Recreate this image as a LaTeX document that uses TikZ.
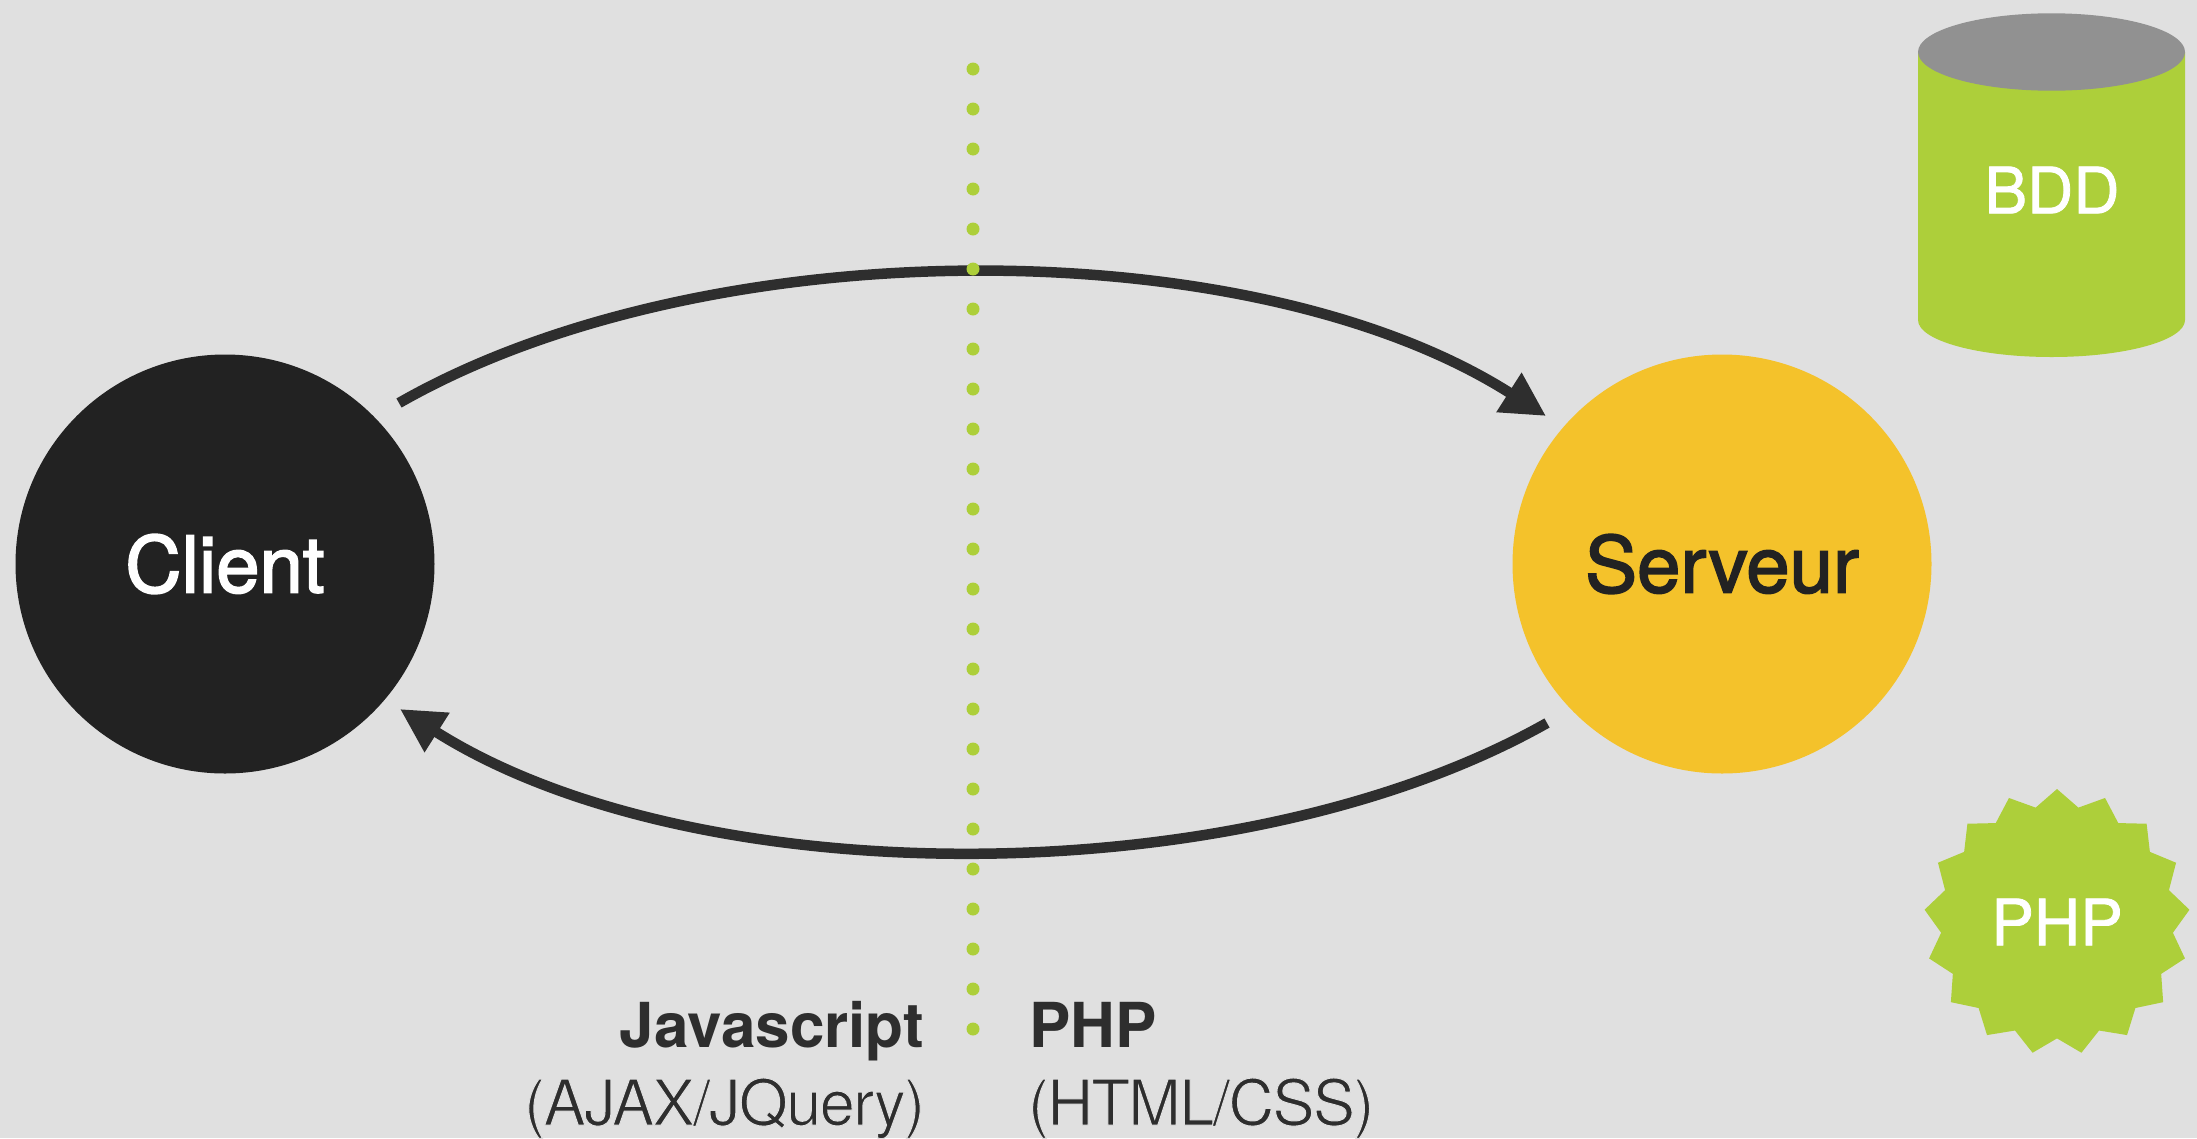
\documentclass[tikz,border=0pt]{standalone}
\usepackage{fontspec}
\setmainfont{TeX Gyre Heros}
\newfontfamily\grasfont[FakeBold=2.2]{TeX Gyre Heros}
\newfontfamily\moyenfont[FakeBold=1.2]{TeX Gyre Heros}
\newfontfamily\serrefont[LetterSpace=-2.5]{TeX Gyre Heros}
\usetikzlibrary{arrows.meta, positioning, shapes.geometric}
\definecolor{fond}{HTML}{E0E0E0}
\definecolor{noir}{HTML}{222222}
\definecolor{encre}{HTML}{2E2E2E}
\definecolor{jaune}{HTML}{F4C22B}
\definecolor{vert}{HTML}{ADCF3A}
\definecolor{gris}{HTML}{919191}
% thin the glyphs with a stroke in the background colour
\newcommand{\finefont}[1]{\special{pdf:code q 2 Tr 1.0 w 0.878 0.878 0.878 RG}#1\special{pdf:code 0 Tr Q}}

\begin{document}
\begin{tikzpicture}[
        x=1pt, y=-1pt,
        every node/.style={align=center, inner sep=0pt, outer sep=0pt},
        rond/.style={circle, minimum size=419pt, font=\fontsize{78}{78}\grasfont},
        fleche/.style={draw=encre, line width=10.5pt, -{Triangle[length=44pt, width=44pt]}},
        point/.style={circle, fill=vert, minimum size=13pt},
        badge/.style={star, star points=17, star point ratio=1.143, minimum size=266pt, fill=vert, text=white, font=\fontsize{64}{64}\moyenfont},
        marque/.style={text=white, font=\fontsize{64}{64}\moyenfont},
        titre/.style={text=encre, font=\fontsize{62}{62}\selectfont\bfseries},
        sous/.style={text=encre, font=\fontsize{63}{63}\serrefont}
        ]

        \useasboundingbox (0,0) rectangle (2197,1138);
        \fill[fond] (0,0) rectangle (2197,1138);

        \node [rond, fill=noir, text=white] (client) at (225,564) {Client};
        \node [rond, fill=jaune, text=noir] (serveur) at (1722,564) {Serveur};

        % the database drum
        \fill[vert] (1918,52) -- (1918,320) arc[start angle=180, end angle=360, x radius=133.5pt, y radius=37pt] -- (2185,52) -- cycle;
        \fill[gris] (2051.5,52) ellipse [x radius=133.5pt, y radius=38.7pt];
        \node [marque] (bdd) at (2052,190) {BDD};
        \node [badge] (php) at (2057,922) {PHP};

        \coordinate (allerA) at (399,403);
        \coordinate (allerB) at (1546,416);
        \coordinate (retourA) at (1547,723);
        \coordinate (retourB) at (400,709);

        \draw [fleche] (allerA) .. controls (705,228) and (1251,228) .. (allerB);
        \draw [fleche] (retourA) .. controls (1241,896) and (695,896) .. (retourB);

        \foreach \i in {0,...,24}
            \node [point] (point\i) at (973,{69+40*\i}) {};

        \node [titre, anchor=base east] (javascript) at (924,1047) {Javascript};
        \node [sous, anchor=base east] (ajax) at (925,1125) {\finefont{(AJAX/JQuery)}};
        \node [titre, anchor=base west] (langage) at (1029,1047) {PHP};
        \node [sous, anchor=base west] (html) at (1028,1125) {\finefont{(HTML/CSS)}};
\end{tikzpicture}
\end{document}
